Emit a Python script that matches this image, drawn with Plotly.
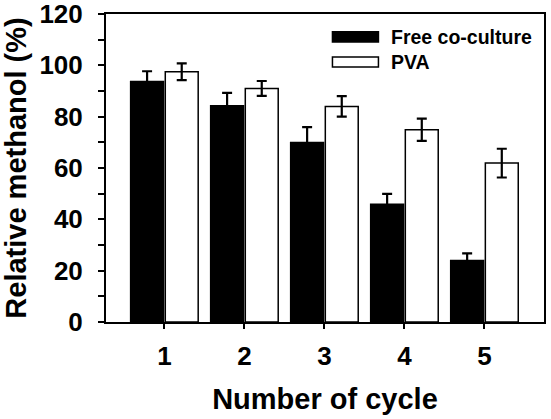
import plotly.graph_objects as go

cycles = [1, 2, 3, 4, 5]
tick_labels = ["1", "2", "3", "4", "5"]
free_vals = [93.7, 84.3, 69.9, 45.9, 24.0]
free_err = [4.0, 5.0, 6.0, 4.0, 2.7]
pva_vals = [97.5, 91.0, 84.0, 74.9, 61.9]
pva_err = [3.3, 2.9, 4.0, 4.3, 5.6]
series_names = ["Free co-culture", "PVA"]

FONT = "Liberation Sans, Arial, sans-serif"

fig = go.Figure()
fig.add_trace(go.Bar(
    x=cycles, y=free_vals, name=series_names[0],
    marker=dict(color="black", line=dict(color="black", width=1.5)),
    error_y=dict(type="data", array=free_err, color="black", thickness=2.2, width=5),
    showlegend=False,
))
fig.add_trace(go.Bar(
    x=cycles, y=pva_vals, name=series_names[1],
    marker=dict(color="white", line=dict(color="black", width=1.5)),
    error_y=dict(type="data", array=pva_err, color="black", thickness=2.2, width=5),
    showlegend=False,
))

# custom legend (wide rectangular patches like the reference)
legend_rows = [(0.909, 0.942, "black", 0.924), (0.828, 0.860, "white", 0.844)]
for (y0, y1, col, ty), name in zip(legend_rows, series_names):
    fig.add_shape(type="rect", xref="paper", yref="paper",
                  x0=0.517, x1=0.622, y0=y0, y1=y1,
                  fillcolor=col, line=dict(color="black", width=1.5))
    fig.add_annotation(xref="paper", yref="paper", x=0.647, y=ty,
                       text=name, showarrow=False, xanchor="left", yanchor="middle",
                       font=dict(family=FONT, size=19.5, color="black", weight="bold"))

fig.update_layout(
    width=551, height=419,
    margin=dict(l=106, r=7, t=14, b=97, autoexpand=False),
    paper_bgcolor="white", plot_bgcolor="white",
    barmode="group", bargap=0.134, bargroupgap=0.05,
    font=dict(family=FONT, color="black", weight="bold"),
    xaxis=dict(
        range=[0.27, 5.744], tickmode="array", tickvals=cycles, ticktext=tick_labels,
        showline=True, linecolor="black", linewidth=2, mirror=True,
        ticks="outside", ticklen=5, tickwidth=2, tickcolor="black",
        tickfont=dict(family=FONT, size=26, weight="bold"),
        ticklabelstandoff=5,
        showgrid=False, zeroline=False, automargin=False,
        title=dict(text="Number of cycle", font=dict(family=FONT, size=29, weight="bold"), standoff=18),
    ),
    yaxis=dict(
        range=[0, 120], tickmode="linear", tick0=0, dtick=20,
        showline=True, linecolor="black", linewidth=2, mirror=True,
        ticks="outside", ticklen=6, tickwidth=1.5, tickcolor="black",
        minor=dict(dtick=10, ticks="outside", ticklen=6, tickwidth=1.5, tickcolor="black", showgrid=False),
        tickfont=dict(family=FONT, size=26, weight="bold"),
        ticklabelstandoff=10,
        ticklabeloverflow="allow",
        showgrid=False, zeroline=False, automargin=False,
        title=dict(text="Relative methanol (%)", font=dict(family=FONT, size=29, weight="bold"), standoff=5),
    ),
)

# remove the page's default 8px body margin so the figure sits at the window origin
fig.write_html("out.html", config={"displayModeBar": False},
               post_script="document.body.style.margin='0';document.body.style.overflow='hidden';")
